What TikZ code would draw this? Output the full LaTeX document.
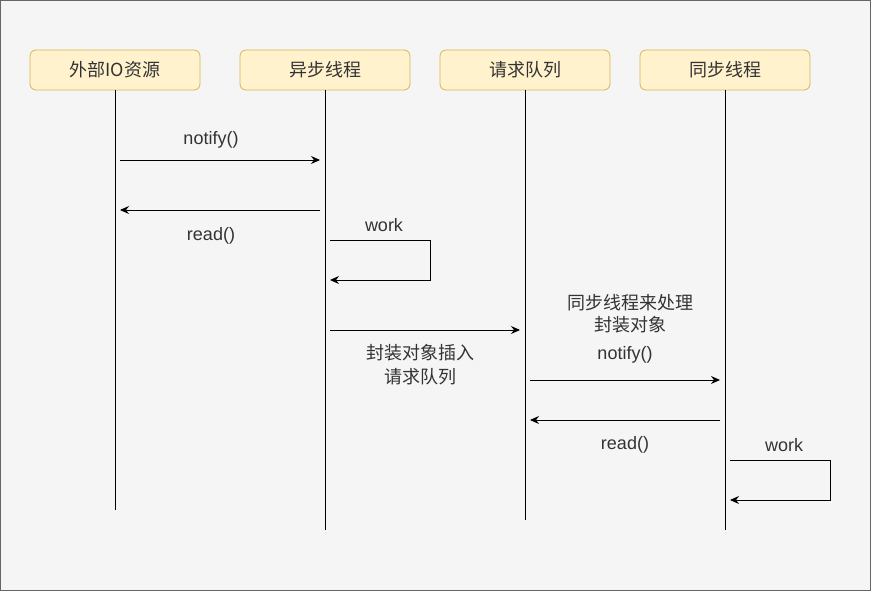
\documentclass[tikz,border=0pt]{standalone}
\usepackage{fontspec}
\setmainfont{Liberation Sans}
\newfontfamily\cjk{Noto Sans CJK SC}
\usetikzlibrary{arrows.meta}
\definecolor{bgc}{HTML}{F5F5F5}
\definecolor{bdc}{HTML}{666666}
\definecolor{boxf}{HTML}{FFF2CC}
\definecolor{boxd}{HTML}{D6B656}
\definecolor{txt}{HTML}{333333}
\begin{document}
\begin{tikzpicture}[x=1pt,y=-1pt,
  every node/.style={font=\fontsize{18}{22}\selectfont, text=txt},
  actor/.style={draw=boxd, fill=boxf, rounded corners=6pt, minimum width=170pt, minimum height=40pt, inner sep=0pt, line width=0.8pt},
  life/.style={draw=black, line width=0.9pt},
  msg/.style={draw=black, line width=0.9pt, -{Stealth[length=9pt,width=8pt,inset=3pt]}},
  lbl/.style={inner sep=0pt, align=center}
]
\useasboundingbox (0,0) rectangle (871,591);
\draw[fill=bgc, draw=bdc, line width=1pt] (0.5,0.5) rectangle (870.5,590.5);

\node[actor] (a1) at (115,70) {\cjk 外部IO资源};
\node[actor] (a2) at (325,70) {\cjk 异步线程};
\node[actor] (a3) at (525,70) {\cjk 请求队列};
\node[actor] (a4) at (725,70) {\cjk 同步线程};

\coordinate (e1) at (115,510);
\coordinate (e2) at (325,530);
\coordinate (e3) at (525,520);
\coordinate (e4) at (725,530);
\draw[life] (a1.south) -- (e1);
\draw[life] (a2.south) -- (e2);
\draw[life] (a3.south) -- (e3);
\draw[life] (a4.south) -- (e4);

% notify 1
\coordinate (n1s) at (120,160); \coordinate (n1e) at (320,160);
\draw[msg] (n1s) -- (n1e);
\node[lbl] (l1) at (211,140) {notify()};
% read 1
\coordinate (r1s) at (320,210); \coordinate (r1e) at (120,210);
\draw[msg] (r1s) -- (r1e);
\node[lbl] (l2) at (211,236) {read()};
% work 1
\coordinate (w1a) at (330,240); \coordinate (w1b) at (430,240);
\coordinate (w1c) at (430,280); \coordinate (w1d) at (330,280);
\draw[msg] (w1a) -- (w1b) -- (w1c) -- (w1d);
\node[lbl] (l3) at (384,225) {work};
% insert
\coordinate (i1s) at (330,330); \coordinate (i1e) at (520,330);
\draw[msg] (i1s) -- (i1e);
\node[lbl] (l4a) at (420,353) {\cjk 封装对象插入};
\node[lbl] (l4b) at (420,377) {\cjk 请求队列};
% sync
\node[lbl] (l5a) at (630,303) {\cjk 同步线程来处理};
\node[lbl] (l5b) at (630,325) {\cjk 封装对象};
\coordinate (n2s) at (530,380); \coordinate (n2e) at (720,380);
\draw[msg] (n2s) -- (n2e);
\node[lbl] (l6) at (625,355) {notify()};
\coordinate (r2s) at (720,420); \coordinate (r2e) at (530,420);
\draw[msg] (r2s) -- (r2e);
\node[lbl] (l7) at (625,445) {read()};
% work 2
\coordinate (w2a) at (730,460); \coordinate (w2b) at (830,460);
\coordinate (w2c) at (830,500); \coordinate (w2d) at (730,500);
\draw[msg] (w2a) -- (w2b) -- (w2c) -- (w2d);
\node[lbl] (l8) at (784,445) {work};
\end{tikzpicture}
\end{document}
